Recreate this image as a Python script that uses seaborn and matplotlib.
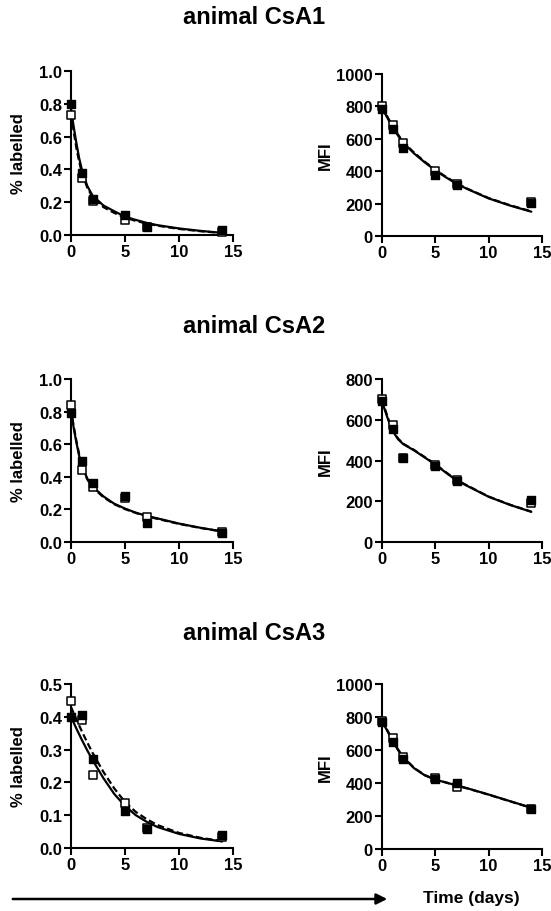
import numpy as np
import pandas as pd
import matplotlib
matplotlib.use("Agg")
import matplotlib.pyplot as plt
from matplotlib.patches import FancyArrowPatch
import seaborn as sns

# --- data ---
days = [0, 1, 2, 5, 7, 14]
fit_days = [0, 0.25, 0.5, 0.75, 1, 1.5, 2, 3, 4, 5, 6, 7, 8, 10, 12, 14]

# animal CsA1
csa1_pct_filled = [0.80, 0.38, 0.22, 0.12, 0.05, 0.03]
csa1_pct_open = [0.73, 0.35, 0.21, 0.09, 0.05, 0.02]
csa1_pct_fit_solid = [0.77, 0.66, 0.56, 0.47, 0.40, 0.30, 0.24, 0.18, 0.145, 0.112,
                      0.092, 0.074, 0.060, 0.040, 0.025, 0.013]
csa1_pct_fit_dash = [0.74, 0.63, 0.53, 0.45, 0.38, 0.29, 0.23, 0.17, 0.135, 0.106,
                     0.086, 0.070, 0.057, 0.037, 0.023, 0.012]
csa1_mfi_filled = [784, 660, 546, 377, 313, 202]
csa1_mfi_open = [804, 684, 571, 400, 322, 210]
csa1_mfi_fit_solid = [790, 760, 730, 700, 672, 620, 575, 510, 455, 405, 362, 322,
                      290, 232, 188, 150]
csa1_mfi_fit_dash = [800, 768, 737, 707, 679, 626, 580, 515, 459, 409, 365, 325,
                     292, 234, 190, 152]

# animal CsA2
csa2_pct_filled = [0.79, 0.50, 0.36, 0.285, 0.115, 0.057]
csa2_pct_open = [0.84, 0.44, 0.34, 0.27, 0.153, 0.061]
csa2_pct_fit_solid = [0.80, 0.70, 0.61, 0.53, 0.47, 0.39, 0.34, 0.28, 0.235, 0.205,
                      0.18, 0.16, 0.145, 0.113, 0.087, 0.065]
csa2_pct_fit_dash = [0.82, 0.71, 0.62, 0.54, 0.47, 0.385, 0.335, 0.275, 0.232, 0.202,
                     0.178, 0.158, 0.142, 0.111, 0.086, 0.064]
csa2_mfi_filled = [691, 553, 413, 371, 301, 208]
csa2_mfi_open = [704, 574, 413, 379, 304, 190]
csa2_mfi_fit_solid = [690, 650, 612, 575, 545, 505, 480, 450, 415, 380, 340, 302,
                      275, 222, 182, 148]
csa2_mfi_fit_dash = [700, 658, 618, 580, 550, 508, 482, 452, 417, 382, 342, 304,
                     277, 223, 183, 149]

# animal CsA3
csa3_pct_filled = [0.40, 0.407, 0.27, 0.112, 0.059, 0.041]
csa3_pct_open = [0.448, 0.39, 0.223, 0.138, 0.061, 0.033]
csa3_pct_fit_solid = [0.40, 0.382, 0.364, 0.347, 0.33, 0.298, 0.268, 0.213, 0.165,
                      0.128, 0.10, 0.08, 0.064, 0.043, 0.029, 0.02]
csa3_pct_fit_dash = [0.43, 0.411, 0.392, 0.374, 0.356, 0.322, 0.29, 0.232, 0.182,
                     0.14, 0.11, 0.088, 0.07, 0.046, 0.031, 0.021]
csa3_mfi_filled = [770, 650, 545, 425, 400, 245]
csa3_mfi_open = [775, 670, 560, 432, 378, 240]
csa3_mfi_fit_solid = [775, 745, 715, 685, 655, 600, 555, 490, 447, 420, 403, 385,
                      368, 330, 290, 250]
csa3_mfi_fit_dash = [780, 750, 720, 690, 660, 604, 558, 492, 448, 421, 403, 384,
                     367, 329, 289, 249]

titles = ["animal CsA1", "animal CsA2", "animal CsA3"]

# --- style ---
sns.set_theme(style="ticks")
plt.rcParams['font.family'] = ['Liberation Sans', 'DejaVu Sans']
plt.rcParams['font.weight'] = 'bold'
plt.rcParams['axes.labelweight'] = 'bold'
plt.rcParams['text.color'] = 'black'
plt.rcParams['axes.labelcolor'] = 'black'

W, H = 551, 912
fig = plt.figure(figsize=(W / 100, H / 100), dpi=100)


def add_ax(x0, y0, x1, y1):
    # pixel box (top-left origin) -> figure fraction
    return fig.add_axes([x0 / W, 1 - y1 / H, (x1 - x0) / W, (y1 - y0) / H])


def draw_panel(ax, filled, opened, fit_solid, fit_dash, ymax, ystep, ylabel, fmt, lab_x):
    sns.lineplot(x=fit_days, y=fit_solid, ax=ax, color='black', linewidth=1.6)
    sns.lineplot(x=fit_days, y=fit_dash, ax=ax, color='black', linewidth=1.6,
                 linestyle=(0, (3, 1.5)))
    sns.scatterplot(x=days, y=opened, ax=ax, marker='s', s=34, color='white',
                    edgecolor='black', linewidth=1.1, clip_on=False, zorder=3)
    sns.scatterplot(x=days, y=filled, ax=ax, marker='s', s=34, color='black',
                    edgecolor='black', linewidth=1.0, clip_on=False, zorder=4)
    ax.set_xlim(0, 15)
    ax.set_ylim(0, ymax)
    ax.set_xticks([0, 5, 10, 15])
    ax.set_yticks(np.arange(0, ymax + ystep / 2, ystep))
    ax.yaxis.set_major_formatter(plt.FormatStrFormatter(fmt))
    sns.despine(ax=ax)
    for s in ['left', 'bottom']:
        ax.spines[s].set_linewidth(1.5)
        ax.spines[s].set_color('black')
    ax.tick_params(direction='out', length=5, width=1.5, labelsize=12, pad=1.5,
                   colors='black')
    ax.set_ylabel(ylabel, fontsize=12, fontweight='bold', color='black')
    ax.yaxis.set_label_coords(lab_x, 0.5)
    ax.set_xlabel("")


rows = [
    (csa1_pct_filled, csa1_pct_open, csa1_pct_fit_solid, csa1_pct_fit_dash, 1.0, 0.2,
     csa1_mfi_filled, csa1_mfi_open, csa1_mfi_fit_solid, csa1_mfi_fit_dash, 1000),
    (csa2_pct_filled, csa2_pct_open, csa2_pct_fit_solid, csa2_pct_fit_dash, 1.0, 0.2,
     csa2_mfi_filled, csa2_mfi_open, csa2_mfi_fit_solid, csa2_mfi_fit_dash, 800),
    (csa3_pct_filled, csa3_pct_open, csa3_pct_fit_solid, csa3_pct_fit_dash, 0.5, 0.1,
     csa3_mfi_filled, csa3_mfi_open, csa3_mfi_fit_solid, csa3_mfi_fit_dash, 1000),
]
left_boxes = [(71, 72, 233, 236), (71, 380, 233, 543), (71, 685, 233, 849)]
right_boxes = [(382, 75, 542, 237), (382, 380, 542, 543), (382, 685, 542, 850)]
title_y = [18, 327, 634]

for i, r in enumerate(rows):
    axl = add_ax(*left_boxes[i])
    draw_panel(axl, r[0], r[1], r[2], r[3], r[4], r[5], "% labelled", '%.1f', -0.28)
    axr = add_ax(*right_boxes[i])
    draw_panel(axr, r[6], r[7], r[8], r[9], r[10], 200, "MFI", '%d', -0.31)
    fig.text(254 / W, 1 - title_y[i] / H, titles[i], ha='center', va='center',
             fontsize=17, fontweight='bold', color='black')

# time arrow along the bottom
arrow = FancyArrowPatch((10 / W, 1 - 900 / H), (390 / W, 1 - 900 / H),
                        transform=fig.transFigure, arrowstyle='-|>',
                        mutation_scale=16, linewidth=1.8, color='black')
fig.add_artist(arrow)
fig.text(471 / W, 1 - 899 / H, "Time (days)", ha='center', va='center',
         fontsize=12.5, fontweight='bold', color='black')

fig.savefig("out.png", dpi=100)
